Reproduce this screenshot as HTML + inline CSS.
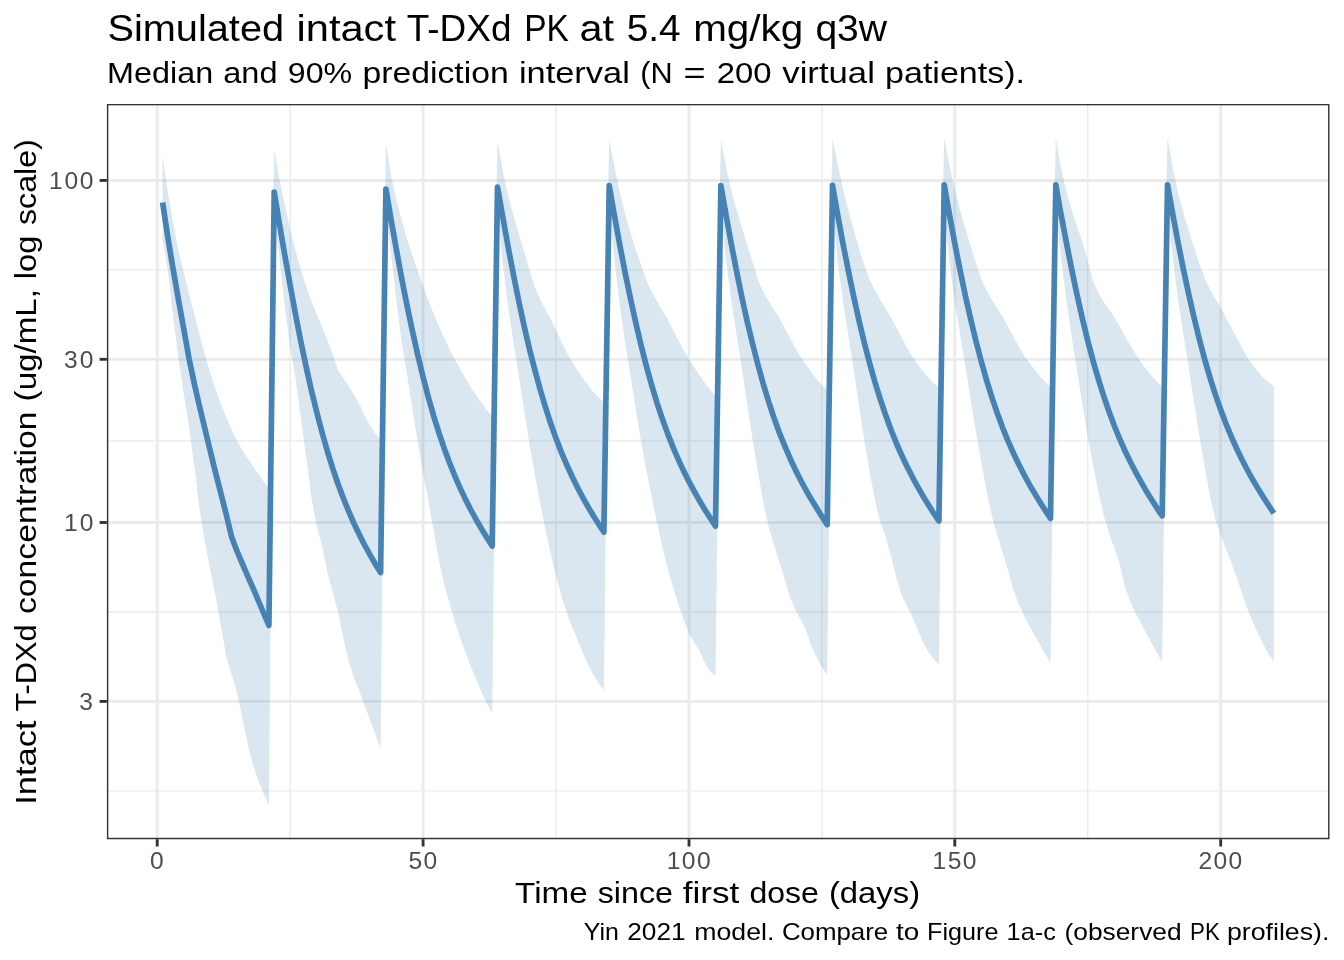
<!DOCTYPE html>
<html><head><meta charset="utf-8"><title>Simulated intact T-DXd PK</title>
<style>html,body{margin:0;padding:0;background:#fff;}body{width:1344px;height:960px;overflow:hidden;font-family:"Liberation Sans",sans-serif;}svg{display:block;will-change:transform;}text{font-family:"Liberation Sans",sans-serif;}</style></head><body>
<svg width="1344" height="960" viewBox="0 0 1344 960">
<rect x="0" y="0" width="1344" height="960" fill="#ffffff"/>
<defs><clipPath id="pc"><rect x="106.9" y="103.9" width="1222.6" height="735.3"/></clipPath></defs>
<g clip-path="url(#pc)">
<line x1="106.9" x2="1329.5" y1="269.9" y2="269.9" stroke="#ebebeb" stroke-width="1.42"/>
<line x1="106.9" x2="1329.5" y1="440.9" y2="440.9" stroke="#ebebeb" stroke-width="1.42"/>
<line x1="106.9" x2="1329.5" y1="611.95" y2="611.95" stroke="#ebebeb" stroke-width="1.42"/>
<line x1="106.9" x2="1329.5" y1="790.85" y2="790.85" stroke="#ebebeb" stroke-width="1.42"/>
<line y1="103.9" y2="839.2" x1="290.2" x2="290.2" stroke="#ebebeb" stroke-width="1.42"/>
<line y1="103.9" y2="839.2" x1="556.0" x2="556.0" stroke="#ebebeb" stroke-width="1.42"/>
<line y1="103.9" y2="839.2" x1="821.9" x2="821.9" stroke="#ebebeb" stroke-width="1.42"/>
<line y1="103.9" y2="839.2" x1="1087.7" x2="1087.7" stroke="#ebebeb" stroke-width="1.42"/>
<line x1="106.9" x2="1329.5" y1="180.45" y2="180.45" stroke="#ebebeb" stroke-width="2.85"/>
<line x1="106.9" x2="1329.5" y1="359.3" y2="359.3" stroke="#ebebeb" stroke-width="2.85"/>
<line x1="106.9" x2="1329.5" y1="522.5" y2="522.5" stroke="#ebebeb" stroke-width="2.85"/>
<line x1="106.9" x2="1329.5" y1="701.4" y2="701.4" stroke="#ebebeb" stroke-width="2.85"/>
<line y1="103.9" y2="839.2" x1="157.2" x2="157.2" stroke="#ebebeb" stroke-width="2.85"/>
<line y1="103.9" y2="839.2" x1="423.1" x2="423.1" stroke="#ebebeb" stroke-width="2.85"/>
<line y1="103.9" y2="839.2" x1="689.0" x2="689.0" stroke="#ebebeb" stroke-width="2.85"/>
<line y1="103.9" y2="839.2" x1="954.8" x2="954.8" stroke="#ebebeb" stroke-width="2.85"/>
<line y1="103.9" y2="839.2" x1="1220.7" x2="1220.7" stroke="#ebebeb" stroke-width="2.85"/>
<path d="M162.6,156.1 L167.9,192.7 L173.2,224.2 L178.5,250.2 L183.8,273.0 L189.2,294.8 L194.5,315.5 L199.8,335.8 L205.1,355.4 L210.4,373.4 L215.7,389.7 L221.1,404.2 L226.4,417.7 L231.7,430.0 L237.0,440.9 L242.3,450.1 L247.6,458.2 L253.0,466.1 L258.3,474.0 L263.6,481.6 L268.9,489.0 L274.2,149.5 L279.5,179.8 L284.9,205.6 L290.2,229.3 L295.5,250.9 L300.8,269.9 L306.1,286.3 L311.4,300.9 L316.8,314.2 L322.1,327.1 L327.4,340.2 L332.7,354.1 L338.0,370.1 L343.4,378.5 L348.7,386.2 L354.0,394.6 L359.3,404.1 L364.6,415.7 L369.9,425.3 L375.2,433.6 L380.6,438.8 L385.9,144.1 L391.2,176.8 L396.5,200.6 L401.8,221.1 L407.1,239.2 L412.5,255.7 L417.8,271.3 L423.1,286.2 L428.4,300.5 L433.7,314.0 L439.1,326.7 L444.4,338.6 L449.7,349.7 L455.0,359.9 L460.3,369.6 L465.6,378.8 L470.9,387.5 L476.3,395.6 L481.6,403.1 L486.9,409.9 L492.2,416.0 L497.5,141.5 L502.9,171.9 L508.2,195.8 L513.5,215.9 L518.8,234.1 L524.1,251.7 L529.4,269.9 L534.8,287.6 L540.1,299.5 L545.4,309.4 L550.7,319.2 L556.0,330.3 L561.3,341.7 L566.7,352.5 L572.0,361.7 L577.3,370.0 L582.6,377.9 L587.9,385.2 L593.2,391.8 L598.6,397.6 L603.9,402.5 L609.2,139.8 L614.5,167.4 L619.8,191.9 L625.1,214.0 L630.5,233.3 L635.8,249.8 L641.1,265.0 L646.4,280.2 L651.7,291.5 L657.0,301.2 L662.4,310.2 L667.7,319.6 L673.0,329.8 L678.3,340.2 L683.6,350.2 L689.0,359.3 L694.3,367.6 L699.6,375.5 L704.9,382.9 L710.2,389.8 L715.5,396.0 L720.9,139.6 L726.2,168.0 L731.5,191.2 L736.8,210.8 L742.1,228.5 L747.4,245.4 L752.8,262.6 L758.1,280.4 L763.4,292.1 L768.7,301.3 L774.0,309.5 L779.3,318.1 L784.7,327.9 L790.0,338.1 L795.3,347.9 L800.6,356.9 L805.9,364.7 L811.2,372.1 L816.6,378.9 L821.9,385.0 L827.2,390.5 L832.5,137.9 L837.8,165.8 L843.1,189.6 L848.5,210.9 L853.8,230.5 L859.1,248.7 L864.4,265.3 L869.7,279.7 L875.0,290.5 L880.4,299.9 L885.7,308.7 L891.0,317.7 L896.3,327.6 L901.6,337.8 L907.0,347.8 L912.3,356.7 L917.6,364.2 L922.9,371.2 L928.2,377.6 L933.5,383.3 L938.9,388.2 L944.2,137.9 L949.5,166.1 L954.8,189.7 L960.1,210.2 L965.4,228.9 L970.8,246.5 L976.1,263.5 L981.4,279.6 L986.7,290.8 L992.0,300.0 L997.3,308.3 L1002.6,316.9 L1008.0,326.5 L1013.3,336.5 L1018.6,346.2 L1023.9,355.2 L1029.2,362.8 L1034.6,369.8 L1039.9,376.2 L1045.2,381.9 L1050.5,386.9 L1055.8,138.2 L1061.1,168.4 L1066.5,191.9 L1071.8,210.3 L1077.1,226.4 L1082.4,242.3 L1087.7,260.2 L1093.0,281.2 L1098.4,293.3 L1103.7,302.0 L1109.0,309.2 L1114.3,317.0 L1119.6,326.3 L1124.9,336.1 L1130.3,345.6 L1135.6,354.5 L1140.9,362.2 L1146.2,369.2 L1151.5,375.8 L1156.8,381.7 L1162.2,386.9 L1167.5,137.1 L1172.8,168.4 L1178.1,192.7 L1183.4,213.1 L1188.8,231.2 L1194.1,247.8 L1199.4,263.6 L1204.7,278.5 L1210.0,289.4 L1215.3,298.7 L1220.7,307.9 L1226.0,317.7 L1231.3,327.5 L1236.6,337.4 L1241.9,347.6 L1247.2,357.4 L1252.5,365.0 L1257.9,371.8 L1263.2,377.7 L1268.5,382.3 L1273.8,385.8 L1273.8,661.9 L1268.5,653.8 L1263.2,644.2 L1257.9,633.3 L1252.5,621.4 L1247.2,608.6 L1241.9,593.1 L1236.6,576.9 L1231.3,562.6 L1226.0,549.0 L1220.7,535.2 L1215.3,519.6 L1210.0,495.9 L1204.7,466.8 L1199.4,436.1 L1194.1,402.4 L1188.8,367.4 L1183.4,334.7 L1178.1,300.0 L1172.8,259.2 L1167.5,207.0 L1162.2,661.9 L1156.8,652.7 L1151.5,643.1 L1146.2,633.3 L1140.9,623.3 L1135.6,613.0 L1130.3,601.3 L1124.9,586.7 L1119.6,563.5 L1114.3,547.9 L1109.0,533.0 L1103.7,515.2 L1098.4,491.7 L1093.0,464.7 L1087.7,436.0 L1082.4,404.0 L1077.1,370.2 L1071.8,337.6 L1066.5,301.0 L1061.1,258.5 L1055.8,207.0 L1050.5,662.4 L1045.2,653.7 L1039.9,644.6 L1034.6,635.2 L1029.2,625.5 L1023.9,615.6 L1018.6,603.8 L1013.3,589.5 L1008.0,570.0 L1002.6,552.4 L997.3,535.3 L992.0,516.5 L986.7,491.3 L981.4,462.5 L976.1,432.4 L970.8,399.9 L965.4,366.5 L960.1,334.1 L954.8,301.7 L949.5,262.6 L944.2,207.0 L938.9,664.5 L933.5,659.0 L928.2,651.7 L922.9,641.7 L917.6,629.4 L912.3,616.8 L907.0,605.9 L901.6,594.9 L896.3,577.6 L891.0,555.8 L885.7,537.1 L880.4,522.5 L875.0,500.1 L869.7,471.7 L864.4,440.9 L859.1,406.5 L853.8,369.9 L848.5,336.9 L843.1,302.7 L837.8,261.9 L832.5,207.0 L827.2,674.4 L821.9,667.3 L816.6,657.3 L811.2,645.5 L805.9,630.0 L800.6,619.6 L795.3,609.8 L790.0,597.5 L784.7,579.6 L779.3,561.4 L774.0,545.0 L768.7,526.7 L763.4,502.6 L758.1,472.9 L752.8,440.9 L747.4,405.9 L742.1,369.5 L736.8,336.5 L731.5,302.2 L726.2,261.4 L720.9,207.0 L715.5,676.0 L710.2,671.5 L704.9,662.9 L699.6,651.3 L694.3,642.5 L689.0,633.5 L683.6,619.7 L678.3,603.9 L673.0,587.3 L667.7,568.8 L662.4,546.8 L657.0,522.5 L651.7,497.2 L646.4,470.4 L641.1,441.7 L635.8,409.6 L630.5,375.4 L625.1,342.9 L619.8,305.0 L614.5,260.5 L609.2,207.0 L603.9,690.6 L598.6,683.2 L593.2,674.4 L587.9,664.3 L582.6,652.3 L577.3,639.4 L572.0,626.6 L566.7,612.4 L561.3,595.3 L556.0,575.7 L550.7,554.0 L545.4,529.6 L540.1,503.1 L534.8,474.4 L529.4,443.8 L524.1,410.5 L518.8,375.3 L513.5,342.4 L508.2,306.9 L502.9,264.7 L497.5,208.0 L492.2,713.2 L486.9,703.2 L481.6,692.0 L476.3,679.8 L470.9,666.8 L465.6,653.0 L460.3,638.3 L455.0,621.9 L449.7,604.1 L444.4,584.9 L439.1,561.2 L433.7,530.5 L428.4,501.2 L423.1,472.7 L417.8,442.8 L412.5,409.4 L407.1,374.5 L401.8,343.1 L396.5,301.6 L391.2,255.3 L385.9,209.0 L380.6,748.4 L375.2,734.1 L369.9,719.7 L364.6,705.1 L359.3,691.1 L354.0,677.4 L348.7,661.4 L343.4,638.0 L338.0,611.8 L332.7,592.0 L327.4,572.3 L322.1,546.0 L316.8,526.7 L311.4,497.3 L306.1,456.6 L300.8,417.4 L295.5,378.1 L290.2,347.2 L284.9,307.8 L279.5,259.0 L274.2,212.0 L268.9,805.2 L263.6,793.4 L258.3,780.2 L253.0,764.8 L247.6,743.6 L242.3,718.0 L237.0,692.2 L231.7,674.7 L226.4,657.6 L221.1,626.8 L215.7,596.7 L210.4,571.1 L205.1,542.9 L199.8,511.1 L194.5,467.6 L189.2,427.7 L183.8,394.3 L178.5,359.3 L173.2,316.7 L167.9,271.2 L162.6,239.0Z" fill="#4682b4" fill-opacity="0.2" stroke="none"/>
<path d="M162.6,202.5 L167.9,237.6 L173.2,269.8 L178.5,299.9 L183.8,329.3 L189.2,359.3 L194.5,384.6 L199.8,407.6 L205.1,429.6 L210.4,451.7 L215.7,473.2 L221.1,494.2 L226.4,515.1 L231.7,537.3 L237.0,551.2 L242.3,563.5 L247.6,575.8 L253.0,588.0 L258.3,600.5 L263.6,613.0 L268.9,625.5 L274.2,192.0 L279.5,224.4 L284.9,255.7 L290.2,285.6 L295.5,314.2 L300.8,341.2 L306.1,366.6 L311.4,390.4 L316.8,412.4 L322.1,432.6 L327.4,451.3 L332.7,468.4 L338.0,484.0 L343.4,498.3 L348.7,511.4 L354.0,523.5 L359.3,534.6 L364.6,545.0 L369.9,554.7 L375.2,563.9 L380.6,572.6 L385.9,189.0 L391.2,220.3 L396.5,250.3 L401.8,278.9 L407.1,305.9 L412.5,331.4 L417.8,355.1 L423.1,377.2 L428.4,397.5 L433.7,416.1 L439.1,433.3 L444.4,448.9 L449.7,463.2 L455.0,476.4 L460.3,488.4 L465.6,499.6 L470.9,510.0 L476.3,519.8 L481.6,529.0 L486.9,537.7 L492.2,546.0 L497.5,187.2 L502.9,217.8 L508.2,247.2 L513.5,275.0 L518.8,301.2 L524.1,325.8 L529.4,348.7 L534.8,369.8 L540.1,389.3 L545.4,407.1 L550.7,423.5 L556.0,438.4 L561.3,452.1 L566.7,464.7 L572.0,476.3 L577.3,487.1 L582.6,497.1 L587.9,506.6 L593.2,515.5 L598.6,524.0 L603.9,532.2 L609.2,185.7 L614.5,216.1 L619.8,245.1 L625.1,272.6 L630.5,298.6 L635.8,322.8 L641.1,345.4 L646.4,366.2 L651.7,385.3 L657.0,402.9 L662.4,419.0 L667.7,433.6 L673.0,447.1 L678.3,459.5 L683.6,470.9 L689.0,481.6 L694.3,491.5 L699.6,500.8 L704.9,509.7 L710.2,518.1 L715.5,526.2 L720.9,185.7 L726.2,216.0 L731.5,244.9 L736.8,272.4 L742.1,298.2 L747.4,322.3 L752.8,344.7 L758.1,365.4 L763.4,384.4 L768.7,401.9 L774.0,417.9 L779.3,432.5 L784.7,445.9 L790.0,458.2 L795.3,469.6 L800.6,480.1 L805.9,490.0 L811.2,499.3 L816.6,508.1 L821.9,516.5 L827.2,524.6 L832.5,185.4 L837.8,215.5 L843.1,244.2 L848.5,271.4 L853.8,297.0 L859.1,320.9 L864.4,343.1 L869.7,363.5 L875.0,382.3 L880.4,399.6 L885.7,415.3 L891.0,429.7 L896.3,443.0 L901.6,455.1 L907.0,466.4 L912.3,476.8 L917.6,486.6 L922.9,495.9 L928.2,504.6 L933.5,513.0 L938.9,521.0 L944.2,184.8 L949.5,214.8 L954.8,243.4 L960.1,270.4 L965.4,295.9 L970.8,319.6 L976.1,341.6 L981.4,361.9 L986.7,380.6 L992.0,397.7 L997.3,413.3 L1002.6,427.6 L1008.0,440.8 L1013.3,452.9 L1018.6,464.0 L1023.9,474.4 L1029.2,484.2 L1034.6,493.3 L1039.9,502.1 L1045.2,510.4 L1050.5,518.4 L1055.8,184.8 L1061.1,214.7 L1066.5,243.1 L1071.8,269.9 L1077.1,295.2 L1082.4,318.7 L1087.7,340.5 L1093.0,360.6 L1098.4,379.1 L1103.7,396.1 L1109.0,411.5 L1114.3,425.7 L1119.6,438.7 L1124.9,450.7 L1130.3,461.8 L1135.6,472.1 L1140.9,481.7 L1146.2,490.9 L1151.5,499.5 L1156.8,507.8 L1162.2,515.8 L1167.5,184.8 L1172.8,214.5 L1178.1,242.7 L1183.4,269.4 L1188.8,294.5 L1194.1,317.8 L1199.4,339.4 L1204.7,359.4 L1210.0,377.6 L1215.3,394.4 L1220.7,409.7 L1226.0,423.8 L1231.3,436.6 L1236.6,448.5 L1241.9,459.5 L1247.2,469.7 L1252.5,479.3 L1257.9,488.4 L1263.2,497.0 L1268.5,505.2 L1273.8,513.2" fill="none" stroke="#4682b4" stroke-width="5.69" stroke-linejoin="round" stroke-linecap="butt"/>
<rect x="106.9" y="103.9" width="1222.6" height="735.3" fill="none" stroke="#333333" stroke-width="2.85"/>
</g>
<line x1="99.6" x2="106.9" y1="180.45" y2="180.45" stroke="#333333" stroke-width="2.85"/>
<line x1="99.6" x2="106.9" y1="359.3" y2="359.3" stroke="#333333" stroke-width="2.85"/>
<line x1="99.6" x2="106.9" y1="522.5" y2="522.5" stroke="#333333" stroke-width="2.85"/>
<line x1="99.6" x2="106.9" y1="701.4" y2="701.4" stroke="#333333" stroke-width="2.85"/>
<line y1="839.2" y2="846.5" x1="157.2" x2="157.2" stroke="#333333" stroke-width="2.85"/>
<line y1="839.2" y2="846.5" x1="423.1" x2="423.1" stroke="#333333" stroke-width="2.85"/>
<line y1="839.2" y2="846.5" x1="689.0" x2="689.0" stroke="#333333" stroke-width="2.85"/>
<line y1="839.2" y2="846.5" x1="954.8" x2="954.8" stroke="#333333" stroke-width="2.85"/>
<line y1="839.2" y2="846.5" x1="1220.7" x2="1220.7" stroke="#333333" stroke-width="2.85"/>
<text x="49.1" y="189.0" font-size="24.6" fill="#4d4d4d" textLength="44.3" lengthAdjust="spacing">100</text>
<text x="64.0" y="367.9" font-size="24.6" fill="#4d4d4d" textLength="29.4" lengthAdjust="spacing">30</text>
<text x="64.0" y="531.1" font-size="24.6" fill="#4d4d4d" textLength="29.4" lengthAdjust="spacing">10</text>
<text x="86.2" y="710.0" font-size="24.6" fill="#4d4d4d" text-anchor="middle">3</text>
<text x="156.9" y="869.0" font-size="24.6" fill="#4d4d4d" text-anchor="middle">0</text>
<text x="408.4" y="869.0" font-size="24.6" fill="#4d4d4d" textLength="28.9" lengthAdjust="spacing">50</text>
<text x="666.8" y="869.0" font-size="24.6" fill="#4d4d4d" textLength="43.8" lengthAdjust="spacing">100</text>
<text x="932.6" y="869.0" font-size="24.6" fill="#4d4d4d" textLength="43.8" lengthAdjust="spacing">150</text>
<text x="1198.5" y="869.0" font-size="24.6" fill="#4d4d4d" textLength="43.8" lengthAdjust="spacing">200</text>
<text x="107.4" y="41.0" font-size="36.3" fill="#000" textLength="176.7" lengthAdjust="spacingAndGlyphs">Simulated</text>
<text x="296.5" y="41.0" font-size="36.3" fill="#000" textLength="99.5" lengthAdjust="spacingAndGlyphs">intact</text>
<text x="406.8" y="41.0" font-size="36.3" fill="#000" textLength="104.7" lengthAdjust="spacingAndGlyphs">T-DXd</text>
<text x="524.2" y="41.0" font-size="36.3" fill="#000" textLength="44.7" lengthAdjust="spacingAndGlyphs">PK</text>
<text x="579.4" y="41.0" font-size="36.3" fill="#000" textLength="34.5" lengthAdjust="spacingAndGlyphs">at</text>
<text x="626.7" y="41.0" font-size="36.3" fill="#000" textLength="54.0" lengthAdjust="spacingAndGlyphs">5.4</text>
<text x="693.2" y="41.0" font-size="36.3" fill="#000" textLength="110.1" lengthAdjust="spacingAndGlyphs">mg/kg</text>
<text x="815.4" y="41.0" font-size="36.3" fill="#000" textLength="71.7" lengthAdjust="spacingAndGlyphs">q3w</text>
<text x="107.1" y="82.9" font-size="30.2" fill="#000" textLength="106.1" lengthAdjust="spacingAndGlyphs">Median</text>
<text x="223.3" y="82.9" font-size="30.2" fill="#000" textLength="54.2" lengthAdjust="spacingAndGlyphs">and</text>
<text x="287.8" y="82.9" font-size="30.2" fill="#000" textLength="64.4" lengthAdjust="spacingAndGlyphs">90%</text>
<text x="362.4" y="82.9" font-size="30.2" fill="#000" textLength="146.4" lengthAdjust="spacingAndGlyphs">prediction</text>
<text x="518.9" y="82.9" font-size="30.2" fill="#000" textLength="110.9" lengthAdjust="spacingAndGlyphs">interval</text>
<text x="640.2" y="82.9" font-size="30.2" fill="#000" textLength="32.4" lengthAdjust="spacingAndGlyphs">(N</text>
<text x="683.6" y="82.9" font-size="30.2" fill="#000" textLength="22.1" lengthAdjust="spacingAndGlyphs">=</text>
<text x="716.7" y="82.9" font-size="30.2" fill="#000" textLength="54.8" lengthAdjust="spacingAndGlyphs">200</text>
<text x="782.3" y="82.9" font-size="30.2" fill="#000" textLength="92.6" lengthAdjust="spacingAndGlyphs">virtual</text>
<text x="885.1" y="82.9" font-size="30.2" fill="#000" textLength="139.9" lengthAdjust="spacingAndGlyphs">patients).</text>
<text x="515.1" y="903.0" font-size="30.2" fill="#000" textLength="72.5" lengthAdjust="spacingAndGlyphs">Time</text>
<text x="597.7" y="903.0" font-size="30.2" fill="#000" textLength="75.4" lengthAdjust="spacingAndGlyphs">since</text>
<text x="682.7" y="903.0" font-size="30.2" fill="#000" textLength="56.7" lengthAdjust="spacingAndGlyphs">first</text>
<text x="749.4" y="903.0" font-size="30.2" fill="#000" textLength="69.5" lengthAdjust="spacingAndGlyphs">dose</text>
<text x="828.9" y="903.0" font-size="30.2" fill="#000" textLength="91.2" lengthAdjust="spacingAndGlyphs">(days)</text>
<text x="583.8" y="939.6" font-size="23.6" fill="#000" textLength="35.1" lengthAdjust="spacingAndGlyphs">Yin</text>
<text x="627.2" y="939.6" font-size="23.6" fill="#000" textLength="58.4" lengthAdjust="spacingAndGlyphs">2021</text>
<text x="694.3" y="939.6" font-size="23.6" fill="#000" textLength="80.1" lengthAdjust="spacingAndGlyphs">model.</text>
<text x="781.9" y="939.6" font-size="23.6" fill="#000" textLength="106.3" lengthAdjust="spacingAndGlyphs">Compare</text>
<text x="896.1" y="939.6" font-size="23.6" fill="#000" textLength="23.2" lengthAdjust="spacingAndGlyphs">to</text>
<text x="927.1" y="939.6" font-size="23.6" fill="#000" textLength="71.3" lengthAdjust="spacingAndGlyphs">Figure</text>
<text x="1006.6" y="939.6" font-size="23.6" fill="#000" textLength="49.2" lengthAdjust="spacingAndGlyphs">1a-c</text>
<text x="1064.5" y="939.6" font-size="23.6" fill="#000" textLength="117.1" lengthAdjust="spacingAndGlyphs">(observed</text>
<text x="1190.0" y="939.6" font-size="23.6" fill="#000" textLength="29.8" lengthAdjust="spacingAndGlyphs">PK</text>
<text x="1226.9" y="939.6" font-size="23.6" fill="#000" textLength="102.5" lengthAdjust="spacingAndGlyphs">profiles).</text>
<text transform="translate(36.2,804.7) rotate(-90)" font-size="30.2" fill="#000" textLength="84.2" lengthAdjust="spacingAndGlyphs">Intact</text>
<text transform="translate(36.2,711.5) rotate(-90)" font-size="30.2" fill="#000" textLength="87.2" lengthAdjust="spacingAndGlyphs">T-DXd</text>
<text transform="translate(36.2,614.1) rotate(-90)" font-size="30.2" fill="#000" textLength="202.7" lengthAdjust="spacingAndGlyphs">concentration</text>
<text transform="translate(36.2,401.4) rotate(-90)" font-size="30.2" fill="#000" textLength="112.4" lengthAdjust="spacingAndGlyphs">(ug/mL,</text>
<text transform="translate(36.2,279.2) rotate(-90)" font-size="30.2" fill="#000" textLength="43.6" lengthAdjust="spacingAndGlyphs">log</text>
<text transform="translate(36.2,225.0) rotate(-90)" font-size="30.2" fill="#000" textLength="85.8" lengthAdjust="spacingAndGlyphs">scale)</text>
</svg></body></html>
